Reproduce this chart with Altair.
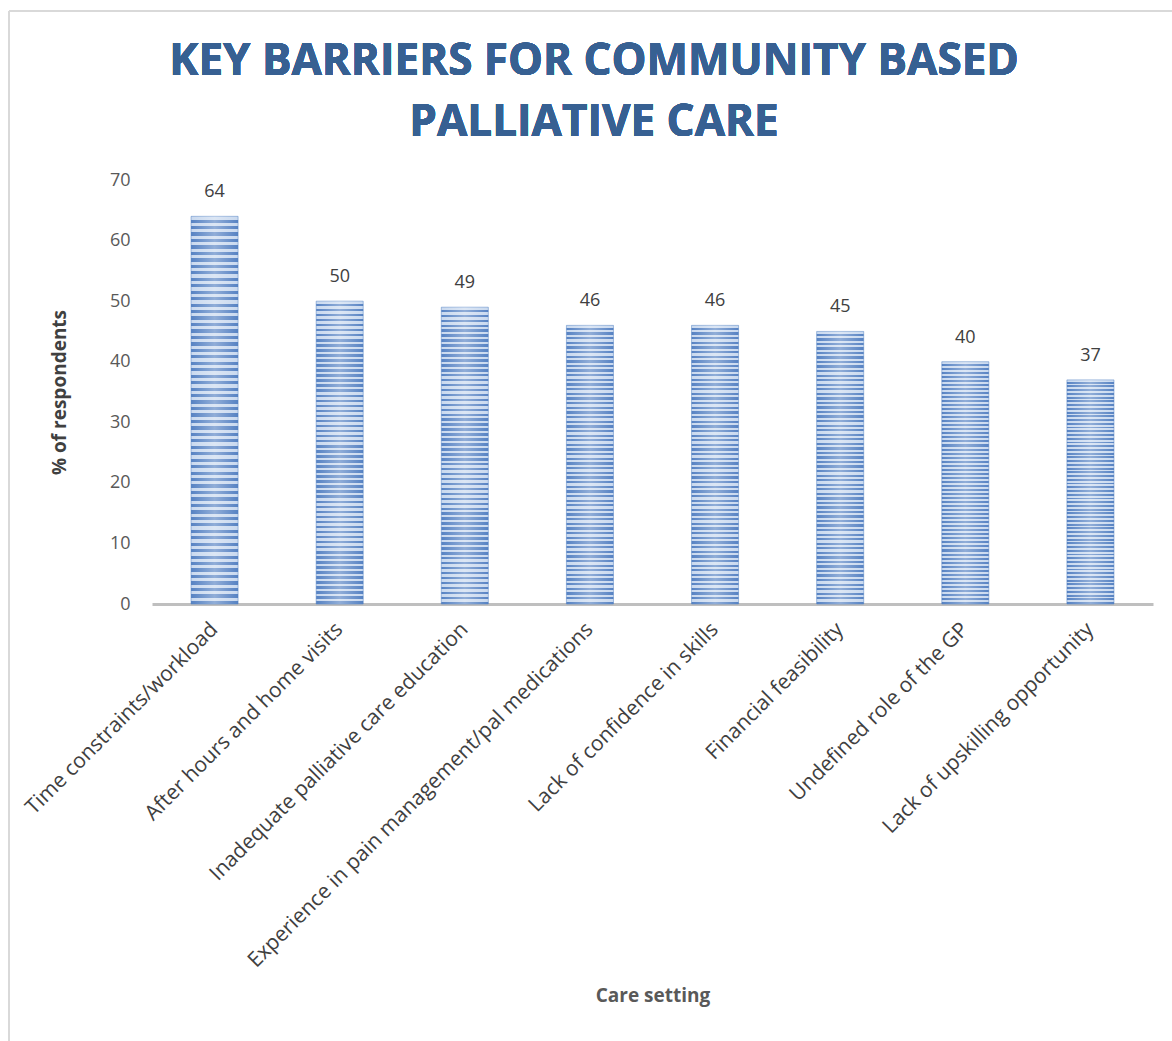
import altair as alt
import pandas as pd

title_lines = ["KEY BARRIERS FOR COMMUNITY BASED", "PALLIATIVE CARE"]
categories = [
    "Time constraints/workload",
    "After hours and home visits",
    "Inadequate palliative care education",
    "Experience in pain management/pal medications",
    "Lack of confidence in skills",
    "Financial feasibility",
    "Undefined role of the GP",
    "Lack of upskilling opportunity",
]
values = [64, 50, 49, 46, 46, 45, 40, 37]

df = pd.DataFrame({"cat": categories, "val": values})

# striped fill (horizontal stripes)
N = 60
stops = []
dark = "#5682c3"
light = "#c9d9ef"
for i in range(N):
    a = i / N
    b = (i + 0.5) / N
    c = (i + 1) / N
    stops += [
        {"offset": a, "color": light},
        {"offset": b, "color": light},
        {"offset": b, "color": dark},
        {"offset": c, "color": dark},
    ]
stripe = {"gradient": "linear", "x1": 0, "y1": 0, "x2": 0, "y2": 1, "stops": stops}

shine = {
    "gradient": "linear", "x1": 0, "y1": 0, "x2": 1, "y2": 0,
    "stops": [
        {"offset": 0, "color": "rgba(255,255,255,0)"},
        {"offset": 0.5, "color": "rgba(255,255,255,0.35)"},
        {"offset": 1, "color": "rgba(255,255,255,0)"},
    ],
}

FONT = "Open Sans"

x_enc = alt.X(
    "cat:N", sort=categories,
    scale=alt.Scale(paddingInner=0.624, paddingOuter=0.312),
    axis=alt.Axis(
        title="Care setting", titleFontSize=19, titleFont=FONT, titleFontWeight="bold",
        titleColor="#595959", titleY=391, titleBaseline="middle",
        labelAngle=-45, labelAlign="right", labelBaseline="middle",
        labelFontSize=21, labelFont=FONT, labelColor="#404040", labelPadding=22,
        labelLimit=700, ticks=False, domainColor="#bfbfbf", domainWidth=3,
    ),
)
y_enc = alt.Y(
    "val:Q", scale=alt.Scale(domain=[0, 70]),
    axis=alt.Axis(
        title="% of respondents", titleFontSize=19, titleFont=FONT, titleFontWeight="bold",
        titleColor="#404040", titlePadding=40,
        values=[0, 10, 20, 30, 40, 50, 60, 70],
        labelFontSize=18, labelFont=FONT, labelColor="#595959", labelPadding=22,
        ticks=False, domain=False, grid=False,
    ),
)

bars = alt.Chart(df).mark_bar(fill=stripe, stroke="#4f7fc0", strokeWidth=0.5).encode(x=x_enc, y=y_enc)
shine_bars = alt.Chart(df).mark_bar(fill=shine).encode(x=alt.X("cat:N", sort=categories), y="val:Q")
labels = alt.Chart(df).mark_text(
    dy=-24, fontSize=18, font=FONT, color="#404040"
).encode(x=alt.X("cat:N", sort=categories), y="val:Q", text="val:Q")

title1 = alt.Chart(df).mark_text(
    text=title_lines[0], fontSize=44, font=FONT, fontWeight="bold", color="#376092",
    baseline="middle", align="center",
).encode(x=alt.value(442), y=alt.value(-118))
title2 = alt.Chart(df).mark_text(
    text=title_lines[1], fontSize=44, font=FONT, fontWeight="bold", color="#376092",
    baseline="middle", align="center",
).encode(x=alt.value(442), y=alt.value(-57))

frame_top = alt.Chart(df).mark_rule(color="#d9d9d9", strokeWidth=2).encode(
    x=alt.value(-143), x2=alt.value(1030), y=alt.value(-169))
frame_left = alt.Chart(df).mark_rule(color="#d9d9d9", strokeWidth=2).encode(
    x=alt.value(-143), y=alt.value(-169), y2=alt.value(870))

chart = alt.layer(frame_top, frame_left, bars, shine_bars, labels, title1, title2).properties(
    width=1001, height=424,
    autosize=alt.AutoSizeParams(type="none"),
    padding={"left": 152, "top": 180, "right": 19, "bottom": 437},
).configure_view(stroke=None)

chart.save("out.html", embed_options={"renderer": "svg", "actions": False})
